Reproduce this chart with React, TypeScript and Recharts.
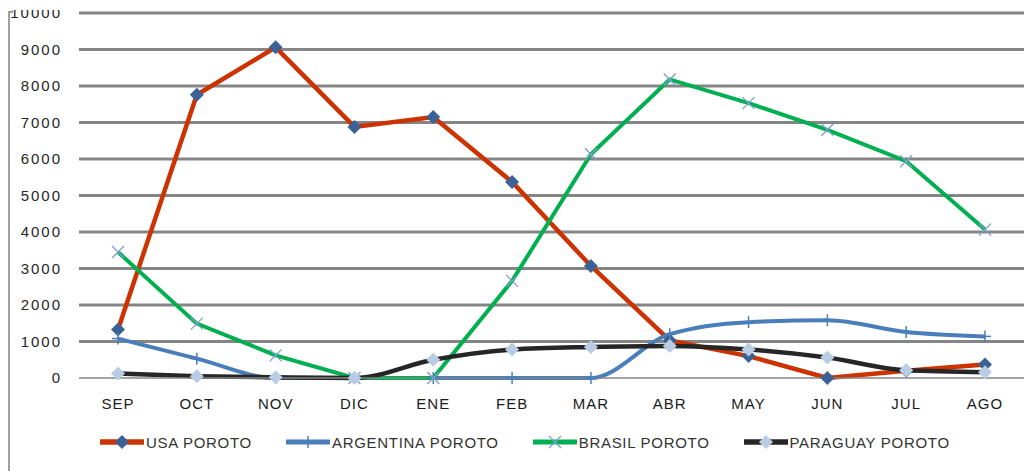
import { LineChart, Line, XAxis, YAxis, CartesianGrid, Legend } from 'recharts';

const months = ['SEP', 'OCT', 'NOV', 'DIC', 'ENE', 'FEB', 'MAR', 'ABR', 'MAY', 'JUN', 'JUL', 'AGO'];
const usa = [1330, 7760, 9060, 6880, 7150, 5370, 3070, 1030, 600, 0, 200, 370];
const argentina = [1080, 530, 0, 0, 0, 0, 0, 1200, 1530, 1580, 1260, 1140];
const brasil = [3450, 1490, 620, 0, 0, 2660, 6130, 8180, 7530, 6800, 5940, 4070];
const paraguay = [120, 50, 20, 0, 500, 780, 850, 880, 780, 560, 210, 160];
const yTicks = [0, 1000, 2000, 3000, 4000, 5000, 6000, 7000, 8000, 9000, 10000];

const data = months.map((m, i) => ({
  month: m,
  usa: usa[i],
  argentina: argentina[i],
  brasil: brasil[i],
  paraguay: paraguay[i],
}));

const FONT = '"Liberation Sans", Arial, sans-serif';

type Marker = 'diamond' | 'plus' | 'cross';

function drawMarker(kind: Marker, color: string, cx: number, cy: number, key?: any) {
  if (kind === 'diamond') {
    const r = 7;
    return <path key={key} d={`M${cx},${cy - r}L${cx + r},${cy}L${cx},${cy + r}L${cx - r},${cy}Z`} fill={color} />;
  }
  if (kind === 'plus') {
    const r = 6;
    return (
      <g key={key} stroke={color} strokeWidth={1.5}>
        <line x1={cx - r} y1={cy} x2={cx + r} y2={cy} />
        <line x1={cx} y1={cy - r} x2={cx} y2={cy + r} />
      </g>
    );
  }
  const r = 6;
  return (
    <g key={key} stroke={color} strokeWidth={1.3}>
      <line x1={cx - r} y1={cy - r} x2={cx + r} y2={cy + r} />
      <line x1={cx - r} y1={cy + r} x2={cx + r} y2={cy - r} />
    </g>
  );
}

const series = [
  { key: 'usa', name: 'USA POROTO', stroke: '#cc3300', width: 4.5, type: 'linear', marker: 'diamond' as Marker, mcolor: '#3a6296' },
  { key: 'argentina', name: 'ARGENTINA POROTO', stroke: '#4a7ebb', width: 4, type: 'monotone', marker: 'plus' as Marker, mcolor: '#4a7ebb' },
  { key: 'brasil', name: 'BRASIL POROTO', stroke: '#00b050', width: 4, type: 'linear', marker: 'cross' as Marker, mcolor: '#7f9fd0' },
  { key: 'paraguay', name: 'PARAGUAY POROTO', stroke: '#262626', width: 4.5, type: 'monotone', marker: 'diamond' as Marker, mcolor: '#b9cce4' },
];

const dotFor = (kind: Marker, color: string) => (props: any) =>
  drawMarker(kind, color, props.cx, props.cy, props.index);

function renderLegend() {
  return (
    <div style={{ display: 'flex', height: 20, alignItems: 'center', paddingLeft: 100, gap: 34, fontFamily: FONT, fontSize: 15, letterSpacing: 0.7, color: '#333' }}>
      {series.map((s) => (
        <div key={s.key} style={{ display: 'flex', alignItems: 'center' }}>
          <svg width={44} height={16} style={{ marginRight: 2 }}>
            <line x1={0} y1={8} x2={44} y2={8} stroke={s.stroke} strokeWidth={s.width + 1} />
            {drawMarker(s.marker, s.mcolor, 22, 8)}
          </svg>
          <span>{s.name}</span>
        </div>
      ))}
    </div>
  );
}

// grid lines above the zero line only; the axis line draws the zero
const gridRows = (props: any) => {
  const { top, height } = props.offset;
  return yTicks.filter((t) => t > 0).map((t) => top + height * (1 - t / 10000));
};

export default function App() {
  return (
    <div style={{ position: 'absolute', left: 0, top: 0, width: 1036, height: 471, background: '#fff' }}>
      <LineChart width={1036} height={471} data={data} margin={{ top: 13, right: 12, bottom: 19, left: 0 }}>
        <CartesianGrid vertical={false} stroke="#858585" strokeWidth={3} horizontalCoordinatesGenerator={gridRows} />
        <XAxis
          dataKey="month"
          padding={{ left: 39, right: 39 }}
          axisLine={{ stroke: '#858585', strokeWidth: 1.5 }}
          tickLine={false}
          tickSize={0}
          tickMargin={20}
          height={54}
          interval={0}
          tick={{ fontSize: 15, fill: '#1a1a1a', fontFamily: FONT, letterSpacing: 1 }}
        />
        <YAxis
          domain={[0, 10000]}
          ticks={yTicks}
          interval={0}
          width={79}
          axisLine={false}
          tickLine={false}
          tickSize={0}
          tickMargin={17}
          tick={{ fontSize: 15, fill: '#262626', fontFamily: FONT, letterSpacing: 2 }}
        />
        <Legend verticalAlign="bottom" content={renderLegend} />
        {series.map((s) => (
          <Line
            key={s.key}
            type={s.type as any}
            dataKey={s.key}
            name={s.name}
            stroke={s.stroke}
            strokeWidth={s.width}
            dot={dotFor(s.marker, s.mcolor)}
            activeDot={false}
            isAnimationActive={false}
          />
        ))}
      </LineChart>
      <div style={{ position: 'absolute', left: 0, top: 0, width: 75, height: 10, background: '#fff' }} />
      <div style={{ position: 'absolute', left: 8, top: 11, width: 1.5, height: 460, background: '#a0a0a0' }} />
      <div style={{ position: 'absolute', left: 8, top: 11, width: 5, height: 1.5, background: '#a0a0a0' }} />
    </div>
  );
}
